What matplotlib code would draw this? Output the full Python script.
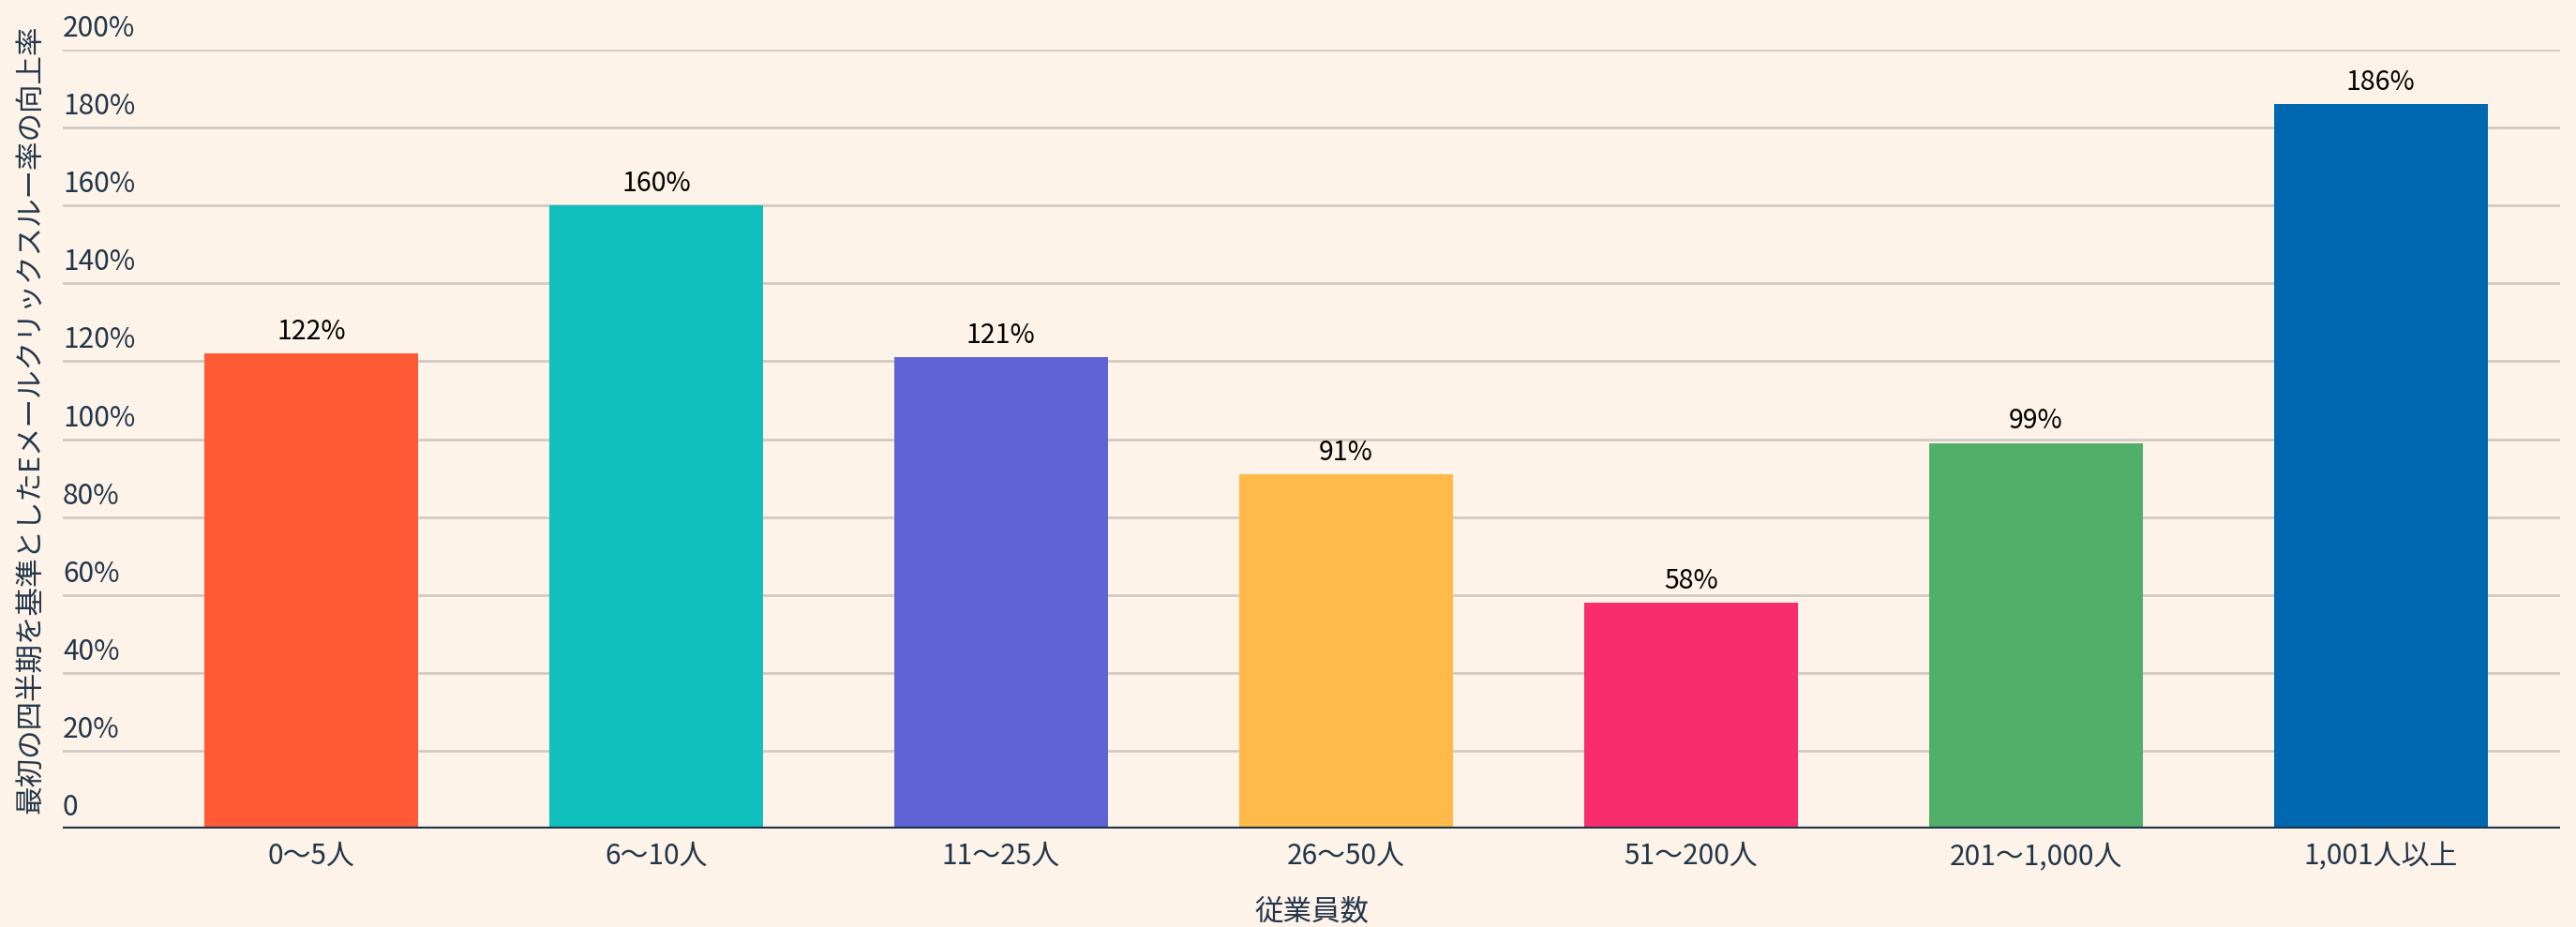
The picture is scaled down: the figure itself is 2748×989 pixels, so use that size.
import matplotlib.pyplot as plt
import matplotlib.transforms as mtransforms
import numpy as np

# data
categories = ["0～5人", "6～10人", "11～25人", "26～50人", "51～200人", "201～1,000人", "1,001人以上"]
values = [122, 160, 121, 91, 58, 99, 186]
bar_colors = ["#FF5A35", "#10C0BE", "#5E63D5", "#FFBA4A", "#F72D6E", "#50B06A", "#0068B0"]
yticks = [0, 20, 40, 60, 80, 100, 120, 140, 160, 180, 200]
ytick_labels = ["0"] + [f"{v}%" for v in yticks[1:]]

plt.rcParams['font.family'] = ['Noto Sans CJK JP', 'DejaVu Sans']

bg = "#FDF3E9"
text_col = "#22364A"

fig = plt.figure(figsize=(27.48, 9.89), dpi=100, facecolor=bg)
ax = fig.add_axes([67 / 2748, 1 - 884 / 989, (2731 - 67) / 2748, (884 - 53) / 989])
ax.set_facecolor(bg)

x = np.arange(len(categories))
ax.bar(x, values, width=0.62, color=bar_colors, zorder=2)

# value labels above bars
for xi, v in zip(x, values):
    ax.annotate(f"{v}%", (xi, v), xytext=(0, 6), textcoords="offset points",
                ha="center", va="bottom", fontsize=20.5, color="black")

# horizontal grid lines
for v in yticks[1:]:
    ax.axhline(v, color="#CFC9C2", lw=1.9, zorder=1)
ax.axhline(0, color="#22364A", lw=3.8, zorder=3)

# y tick labels sit above their gridlines, inside the plot
trans = mtransforms.blended_transform_factory(ax.transAxes, ax.transData)
for v, lab in zip(yticks, ytick_labels):
    ax.annotate(lab, (0, v), xycoords=trans, xytext=(0, 5), textcoords="offset points",
                ha="left", va="bottom", fontsize=21.5, color=text_col)

ax.set_xlim(-0.72, 6.52)
ax.set_ylim(0, 200)
ax.set_yticks([])
ax.set_xticks(x)
ax.set_xticklabels(categories, fontsize=21.5, color=text_col)
ax.tick_params(axis="x", length=0, pad=10)
for s in ax.spines.values():
    s.set_visible(False)

fig.text(0.5 * (67 + 2731) / 2748, 1 - 973 / 989, "従業員数", ha="center", va="center",
         fontsize=22, color=text_col)
fig.text(33 / 2748, 1 - 447 / 989, "最初の四半期を基準としたEメールクリックスルー率の向上率",
         rotation=90, ha="center", va="center", fontsize=22, color=text_col)

fig.savefig("out.png", dpi=100, facecolor=bg)
